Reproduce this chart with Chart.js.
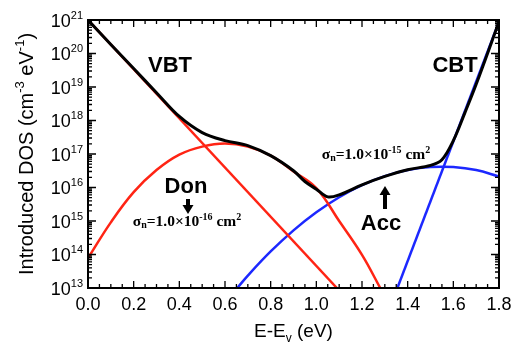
<!DOCTYPE html>
<html>
<head>
<meta charset="utf-8">
<script src="https://cdn.jsdelivr.net/npm/chart.js@4.4.1/dist/chart.umd.min.js"></script>
<style>
html, body { margin: 0; padding: 0; background: #fff; }
#wrap { width: 514px; height: 348px; }
</style>
</head>
<body>
<div id="wrap"><canvas id="myChart" width="514" height="348"></canvas></div>
<script>
// values, as exponents of 10 (cm^-3 eV^-1)
const totalE   = [0.0, 0.1, 0.2, 0.3, 0.4, 0.5, 0.6, 0.7, 0.8, 0.9, 0.95, 1.0, 1.05, 1.1, 1.2, 1.3, 1.4, 1.5, 1.55, 1.6, 1.65, 1.7, 1.8];
const totalLog = [21.0, 20.27, 19.55, 18.83, 18.12, 17.64, 17.40, 17.25, 16.95, 16.50, 16.18, 15.95, 15.72, 15.78, 16.08, 16.33, 16.53, 16.66, 16.83, 17.40, 18.22, 19.08, 20.95];

const donE   = [0.0, 0.1, 0.2, 0.3, 0.4, 0.5, 0.6, 0.7, 0.8, 0.9, 1.0, 1.1, 1.2, 1.28];
const donLog = [13.89, 14.96, 15.86, 16.52, 16.98, 17.22, 17.31, 17.22, 16.95, 16.48, 15.98, 15.0, 13.99, 13.0];

const accE   = [0.654, 0.7, 0.8, 0.9, 1.0, 1.1, 1.2, 1.3, 1.4, 1.5, 1.6, 1.7, 1.8];
const accLog = [13.0, 13.37, 14.09, 14.72, 15.26, 15.71, 16.07, 16.34, 16.52, 16.61, 16.61, 16.52, 16.33];

const vbtE   = [0.0, 1.09];
const vbtLog = [21.0, 13.0];

const cbtE   = [1.355, 1.8];
const cbtLog = [13.0, 20.95];

const xTickLabels = [0.0, 0.2, 0.4, 0.6, 0.8, 1.0, 1.2, 1.4, 1.6, 1.8];
const yDecades = [13, 14, 15, 16, 17, 18, 19, 20, 21];

const RED = 'rgb(255,36,20)';
const BLUE = 'rgb(28,40,255)';

function toPoints(xs, logs)
{
    return xs.map((x, i) => ({ x: x, y: Math.pow(10, logs[i]) }));
}

// draws a row of text pieces, some raised or lowered
function richText(ctx, parts, x, y, align)
{
    var total = 0;
    parts.forEach(p => { ctx.font = p.font; total += ctx.measureText(p.t).width; });
    var cx = align === 'right' ? x - total : (align === 'center' ? x - total / 2 : x);
    ctx.textAlign = 'left';
    ctx.textBaseline = 'alphabetic';
    parts.forEach(p => {
        ctx.font = p.font;
        ctx.fillText(p.t, cx, y + (p.dy || 0));
        cx += ctx.measureText(p.t).width;
    });
}

function arrow(ctx, x, yTail, yTip)
{
    var dir = yTip > yTail ? 1 : -1;
    var headLen = 9;
    ctx.beginPath();
    ctx.rect(x - 2, Math.min(yTail, yTip - dir * headLen), 4, Math.abs(yTip - dir * headLen - yTail));
    ctx.fill();
    ctx.beginPath();
    ctx.moveTo(x - 5.5, yTip - dir * headLen);
    ctx.lineTo(x + 5.5, yTip - dir * headLen);
    ctx.lineTo(x, yTip);
    ctx.closePath();
    ctx.fill();
}

const framePlugin = {
    id: 'frame',
    afterDraw(chart) {
        const ctx = chart.ctx;
        const a = chart.chartArea;
        const xs = chart.scales.x;
        const ys = chart.scales.y;
        ctx.save();
        ctx.strokeStyle = '#000';
        ctx.fillStyle = '#000';

        // ticks, pointing inward
        ctx.lineWidth = 1.3;
        ctx.beginPath();
        for (var i = 0; i <= 36; i++) {
            var px = xs.getPixelForValue(i * 0.05);
            var len = (i % 4 === 0) ? 7 : 4;
            ctx.moveTo(px, a.bottom); ctx.lineTo(px, a.bottom - len);
            ctx.moveTo(px, a.top); ctx.lineTo(px, a.top + len);
        }
        yDecades.forEach(d => {
            for (var m = 1; m <= 9; m++) {
                if (d === 21 && m > 1) break;
                var py = ys.getPixelForValue(m * Math.pow(10, d));
                var len = m === 1 ? 8 : 4;
                ctx.moveTo(a.left, py); ctx.lineTo(a.left + len, py);
                ctx.moveTo(a.right, py); ctx.lineTo(a.right - len, py);
            }
        });
        ctx.stroke();

        ctx.lineWidth = 2;
        ctx.strokeRect(a.left, a.top, a.right - a.left, a.bottom - a.top);

        // tick labels
        ctx.font = '18px "Liberation Sans", Arial, sans-serif';
        ctx.textAlign = 'center';
        ctx.textBaseline = 'middle';
        xTickLabels.forEach(v => {
            ctx.fillText(v.toFixed(1), xs.getPixelForValue(v), 305);
        });
        yDecades.forEach(d => {
            var py = ys.getPixelForValue(Math.pow(10, d));
            richText(ctx, [
                { t: '10', font: '18px "Liberation Sans", Arial, sans-serif' },
                { t: String(d), font: '11px "Liberation Sans", Arial, sans-serif', dy: -8 }
            ], 83, py + 6.5, 'right');
        });

        // axis titles
        richText(ctx, [
            { t: 'E-E', font: '19px "Liberation Sans", Arial, sans-serif' },
            { t: 'v', font: '12px "Liberation Sans", Arial, sans-serif', dy: 5 },
            { t: ' (eV)', font: '19px "Liberation Sans", Arial, sans-serif' }
        ], (a.left + a.right) / 2, 337, 'center');

        ctx.save();
        ctx.translate(33, (a.top + a.bottom) / 2);
        ctx.rotate(-Math.PI / 2);
        richText(ctx, [
            { t: 'Introduced DOS (cm', font: '20px "Liberation Sans", Arial, sans-serif' },
            { t: '-3', font: '13px "Liberation Sans", Arial, sans-serif', dy: -9 },
            { t: ' eV', font: '20px "Liberation Sans", Arial, sans-serif' },
            { t: '-1', font: '13px "Liberation Sans", Arial, sans-serif', dy: -9 },
            { t: ')', font: '20px "Liberation Sans", Arial, sans-serif' }
        ], 0, 0, 'center');
        ctx.restore();

        // annotations
        var bold = 'bold 22px "Liberation Sans", Arial, sans-serif';
        richText(ctx, [{ t: 'VBT', font: bold }], 170, 72, 'center');
        richText(ctx, [{ t: 'CBT', font: bold }], 455, 72, 'center');
        richText(ctx, [{ t: 'Don', font: bold }], 186, 193, 'center');
        richText(ctx, [{ t: 'Acc', font: bold }], 381, 230, 'center');

        var serif = 'bold 15.5px "Liberation Serif", "Times New Roman", serif';
        var small = 'bold 10px "Liberation Serif", "Times New Roman", serif';
        richText(ctx, [
            { t: 'σ', font: serif }, { t: 'n', font: small, dy: 2 },
            { t: '=1.0×10', font: serif }, { t: '-16', font: small, dy: -6 },
            { t: ' cm', font: serif }, { t: '2', font: small, dy: -6 }
        ], 187, 226, 'center');
        richText(ctx, [
            { t: 'σ', font: serif }, { t: 'n', font: small, dy: 2 },
            { t: '=1.0×10', font: serif }, { t: '-15', font: small, dy: -6 },
            { t: ' cm', font: serif }, { t: '2', font: small, dy: -6 }
        ], 376, 159, 'center');

        arrow(ctx, 188, 199, 214);
        arrow(ctx, 385, 209, 186);

        ctx.restore();
    }
};

const config = {
    type: 'line',
    data: {
        datasets: [
            { data: toPoints(totalE, totalLog), borderColor: '#000', borderWidth: 3, tension: 0.35 },
            { data: toPoints(vbtE, vbtLog), borderColor: RED, borderWidth: 2.5, tension: 0 },
            { data: toPoints(donE, donLog), borderColor: RED, borderWidth: 2.5, tension: 0.4 },
            { data: toPoints(accE, accLog), borderColor: BLUE, borderWidth: 2.5, tension: 0.4 },
            { data: toPoints(cbtE, cbtLog), borderColor: BLUE, borderWidth: 2.5, tension: 0 }
        ]
    },
    options: {
        responsive: false,
        animation: false,
        events: [],
        layout: { padding: { left: 88, right: 15, top: 20, bottom: 60 } },
        elements: { point: { radius: 0 }, line: { fill: false } },
        plugins: { legend: { display: false }, tooltip: { enabled: false } },
        scales: {
            x: { type: 'linear', display: false, min: 0, max: 1.8 },
            y: { type: 'logarithmic', display: false, min: 1e13, max: 1e21 }
        }
    },
    plugins: [framePlugin]
};

var myChart = new Chart(document.getElementById('myChart'), config);
</script>
</body>
</html>
